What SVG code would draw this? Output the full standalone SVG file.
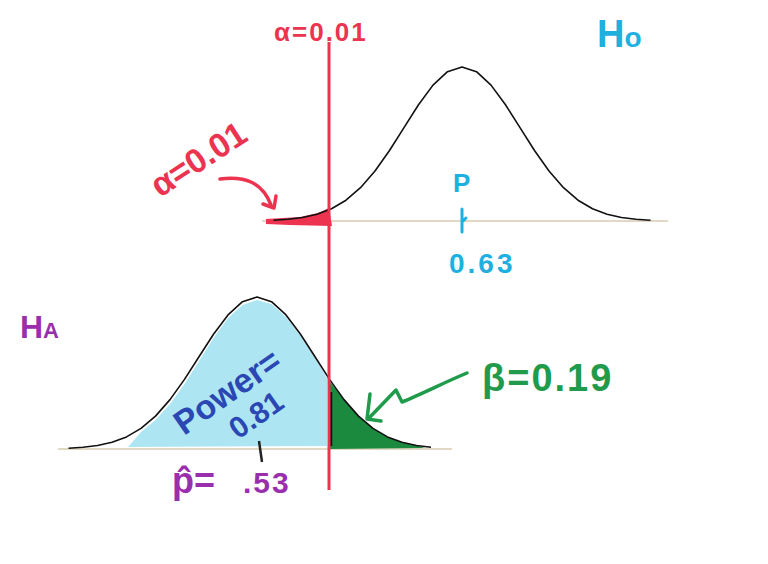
<svg xmlns="http://www.w3.org/2000/svg" width="768" height="564" viewBox="0 0 768 564">
<style>
.hand{font-family:"Liberation Sans","DejaVu Sans",sans-serif;font-weight:bold}
.red{fill:#ec3350}
.cyan{fill:#1fb0e2}
.purple{fill:#9a2fae}
.green{fill:#1f9b4b}
.blue{fill:#2b47b4}
.curve{fill:none;stroke:#111;stroke-width:1.6;stroke-linejoin:round}
.base{stroke:#d9ccb2;stroke-width:1.5}
</style>
<rect width="768" height="564" fill="#fff"/>

<g id="h0-distribution">
<line class="base" x1="262" y1="221" x2="668" y2="221"/>
<polygon points="266,219 300,217 318,213 329,208 332,226 290,225 266,224" fill="#ec3350"/>
<line x1="266" y1="221.5" x2="330" y2="221.5" stroke="#ec3350" stroke-width="5"/>
<polyline class="curve" points="273.5,220.2 288,219.3 302.5,217.5 317,214.2 331.5,208.7 346,200.2 360.5,187.7 375,171 389.5,150.5 404,127.6 418.5,104.8 433,85.1 447.5,71.7 462,67 476.5,71.7 491,85.1 505.5,104.8 520,127.6 534.5,150.5 549,171 563.5,187.7 578,200.2 592.5,208.7 607,214.2 621.5,217.5 636,219.3 650.5,220.2"/>
<text class="hand cyan" x="597" y="47" font-size="38">H<tspan font-size="28">o</tspan></text>
<text class="hand cyan" x="453" y="192" font-size="26">P</text>
<path d="M462,209 L462,232 M462,222 L466,218" stroke="#1fb0e2" stroke-width="3" fill="none" stroke-linecap="round"/>
<text class="hand cyan" x="449" y="273" font-size="28" letter-spacing="3">0.63</text>
</g>

<g id="alpha-label">
<text class="hand red" x="274" y="41" font-size="26" letter-spacing="2">α=0.01</text>
<text class="hand red" x="0" y="0" font-size="34" transform="translate(160,198) rotate(-33)">α=0.01</text>
<path d="M220,179 C245,176 262,182 271,205" fill="none" stroke="#ec3350" stroke-width="3.5" stroke-linecap="round"/>
<path d="M263,204 L274,208 L276,196" fill="none" stroke="#ec3350" stroke-width="3.5" stroke-linecap="round" stroke-linejoin="round"/>
</g>

<g id="ha-distribution">
<line class="base" x1="58" y1="449" x2="452" y2="449"/>
<polygon points="128,447 141,432 155.5,420 170,404 184.5,384 199,361 213.5,338 228,318 242.5,305 257,300 271.5,304 286,317 300.5,336 315,358 327,378 327,446" fill="#a4e3f1" opacity="0.9"/>
<polygon points="330,382 344,399.6 358.5,416.1 373,428.4 387.5,436.9 402,442.3 416.5,445.5 425,448 330,449" fill="#1b8a3e"/>
<line x1="331" y1="392" x2="331" y2="446" stroke="#111" stroke-width="2.5"/>
<polyline class="curve" points="68.5,448.2 83,447.3 97.5,445.5 112,442.3 126.5,436.9 141,428.4 155.5,416.1 170,399.6 184.5,379.4 199,356.8 213.5,334.3 228,314.9 242.5,301.7 257,297 271.5,301.7 286,314.9 300.5,334.3 315,356.8 329.5,379.4 344,399.6 358.5,416.1 373,428.4 387.5,436.9 402,442.3 416.5,445.5 431,447.3"/>
<text class="hand purple" x="20" y="338" font-size="32">H<tspan font-size="22">A</tspan></text>
<text class="hand blue" x="0" y="0" font-size="34" transform="translate(184,436) rotate(-35)">Power=</text>
<text class="hand blue" x="0" y="0" font-size="30" transform="translate(238,440) rotate(-35)">0.81</text>
<line x1="259" y1="441" x2="262" y2="462" stroke="#222" stroke-width="2.5"/>
<text class="hand purple" x="172" y="493" font-size="36">p̂=</text>
<text class="hand purple" x="243" y="493" font-size="30" letter-spacing="2">.53</text>
</g>

<g id="beta-label">
<text class="hand green" x="482" y="391" font-size="38" letter-spacing="2">β=0.19</text>
<path d="M467,373 C445,382 420,395 402,402 L396,390 L369,418" fill="none" stroke="#1f9b4b" stroke-width="3.5" stroke-linecap="round" stroke-linejoin="round"/>
<path d="M370,394 L367,419 L381,421" fill="none" stroke="#1f9b4b" stroke-width="3.5" stroke-linecap="round" stroke-linejoin="round"/>
</g>

<g id="critical-line">
<line x1="329" y1="42" x2="329" y2="490" stroke="#ec3350" stroke-width="3"/>
</g>
</svg>
